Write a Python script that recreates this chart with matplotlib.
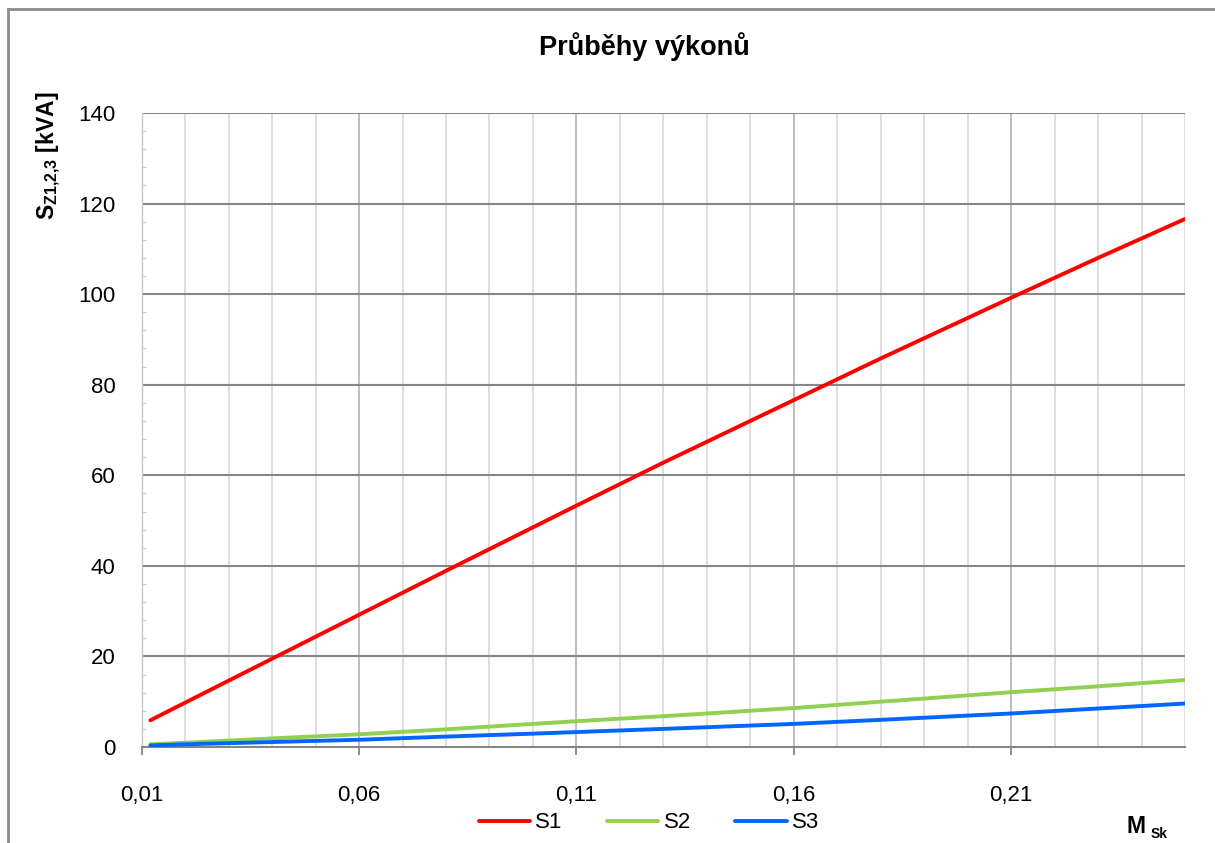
import matplotlib
matplotlib.use('Agg')
import matplotlib.pyplot as plt
from matplotlib.lines import Line2D
import numpy as np

# values
m_sk = [0.012, 0.02, 0.04, 0.06, 0.08, 0.10, 0.11, 0.13, 0.16, 0.18, 0.21, 0.23, 0.25]
s1 = [5.9, 9.8, 19.5, 29.2, 38.9, 48.5, 53.3, 62.8, 76.6, 85.8, 99.2, 108.0, 116.6]
s2 = [0.6, 0.95, 1.9, 2.8, 3.9, 5.1, 5.7, 6.8, 8.6, 10.0, 12.1, 13.4, 14.8]
s3 = [0.35, 0.6, 1.1, 1.6, 2.3, 2.95, 3.3, 4.0, 5.1, 6.0, 7.4, 8.5, 9.6]

series_names = ['S1', 'S2', 'S3']
series_colors = ['#FF0000', '#92D050', '#0066FF']

x_ticks = [0.01, 0.06, 0.11, 0.16, 0.21]
x_tick_labels = ['0,01', '0,06', '0,11', '0,16', '0,21']
y_ticks = [0, 20, 40, 60, 80, 100, 120, 140]

W, H = 1215, 843


def fx(px):
    return px / W


def fy(py):
    return 1 - py / H


def plot_data():
    plt.rcParams['font.family'] = ['Liberation Sans', 'DejaVu Sans']
    plt.rcParams['mathtext.fontset'] = 'custom'
    plt.rcParams['mathtext.rm'] = 'Liberation Sans'
    plt.rcParams['mathtext.bf'] = 'Liberation Sans:bold'

    fig = plt.figure(figsize=(W / 100, H / 100), dpi=100)
    ax = fig.add_axes([fx(141.7), fy(747), fx(1185) - fx(141.7), fy(113) - fy(747)])

    # grid: light minor verticals, darker majors
    for xv in np.arange(0.01, 0.2501, 0.01):
        ax.axvline(xv, color='#DCDCDC', lw=1.3, zorder=0)
    for xv in x_ticks:
        ax.axvline(xv, color='#B4B4B4', lw=1.1, zorder=0)
    for yv in y_ticks[1:]:
        ax.axhline(yv, color='#868686', lw=1.5, zorder=1)

    for vals, name, col in zip([s1, s2, s3], series_names, series_colors):
        ax.plot(m_sk, vals, color=col, lw=2.8, label=name, solid_capstyle='round', zorder=3)

    ax.set_xlim(0.01, 0.25)
    ax.set_ylim(0, 140)
    ax.set_xticks(x_ticks)
    ax.set_xticklabels(x_tick_labels)
    ax.set_yticks(y_ticks)
    ax.set_yticks(np.arange(0, 141, 4), minor=True)
    ax.tick_params(axis='x', direction='out', length=6, width=1.3, color='#868686',
                   pad=21, labelsize=16)
    ax.tick_params(axis='y', which='major', length=0, pad=19, labelsize=16)
    ax.tick_params(axis='y', which='minor', direction='in', length=3, width=0.8, color='#C8C8C8')
    ax.tick_params(axis='x', which='minor', length=0)

    for side in ['top', 'right']:
        ax.spines[side].set_visible(False)
    ax.spines['bottom'].set_color('#868686')
    ax.spines['bottom'].set_linewidth(1.5)
    ax.spines['left'].set_color('#C8C8C8')
    ax.spines['left'].set_linewidth(1.0)
    ax.spines['left'].set_linestyle((0, (2, 1)))

    fig.text(fx(644), fy(47), 'Průběhy výkonů', ha='center', va='center',
             fontsize=19.5, fontweight='bold')
    fig.text(fx(49), fy(156), r'$\mathbf{S_{Z1{,}2{,}3}}$ [kVA]', rotation=90,
             ha='center', va='center', fontsize=16.5, fontweight='bold')
    fig.text(fx(1127), fy(833), 'M', ha='left', va='baseline', fontsize=16.5, fontweight='bold')
    fig.text(fx(1151), fy(838), 'Sk', ha='left', va='baseline', fontsize=10, fontweight='bold')

    handles, labels = ax.get_legend_handles_labels()
    fig.legend(handles, labels, loc='center', bbox_to_anchor=(fx(649), fy(823)), ncol=3,
               frameon=False, fontsize=16, handlelength=2.3, columnspacing=2.0,
               handletextpad=0.25, borderaxespad=0)

    # chart area border (only top and left edge fall inside the picture)
    fig.add_artist(Line2D([fx(8), 1], [fy(9), fy(9)], color='#8C8C8C', lw=2))
    fig.add_artist(Line2D([fx(8), fx(8)], [fy(9), 0], color='#8C8C8C', lw=2))

    fig.savefig('out.png', dpi=100)


def main():
    plot_data()


if __name__ == '__main__':
    main()
